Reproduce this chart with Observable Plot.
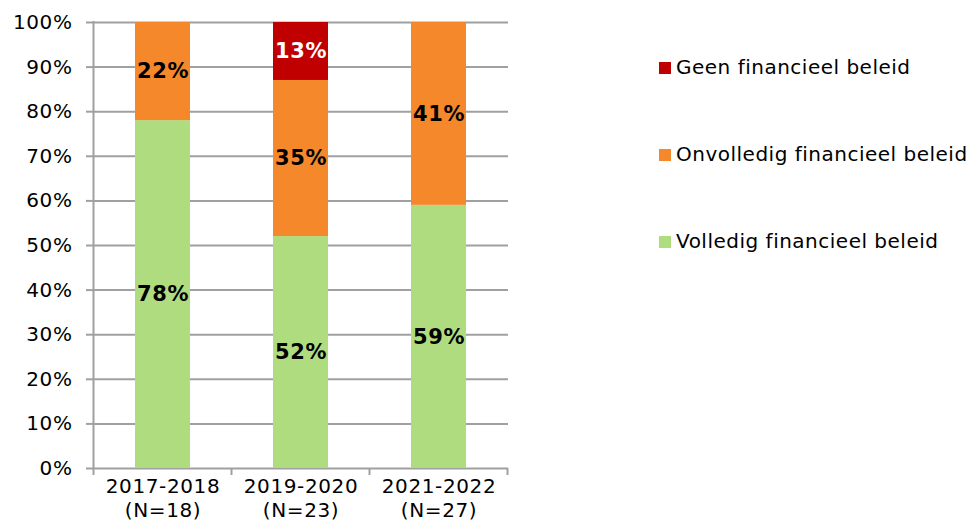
<!DOCTYPE html>
<html><head><meta charset="utf-8">
<script src="https://cdn.jsdelivr.net/npm/d3@7"></script>
<script src="https://cdn.jsdelivr.net/npm/@observablehq/plot@0.6"></script>
<style>
html,body{margin:0;padding:0;background:#fff;}
#wrap{position:relative;width:970px;height:528px;font-family:"DejaVu Sans",Verdana,sans-serif;}
#legend{position:absolute;left:659px;top:0;}
.item{position:absolute;left:0;white-space:nowrap;font-size:20px;letter-spacing:0.5px;line-height:24px;color:#000;}
.sw{display:inline-block;width:12px;height:12px;margin-right:5px;vertical-align:0px;}
svg text{letter-spacing:0.6px;}
svg text.bold{letter-spacing:1.5px;}
</style></head><body><div id="wrap"><div id="legend"></div></div>
<script>
const periods = ["2017-2018", "2019-2020", "2021-2022"];
const counts = [18, 23, 27];
const series = ["Volledig financieel beleid", "Onvolledig financieel beleid", "Geen financieel beleid"];
const colors = ["#b0dc80", "#f5882a", "#c00000"];
const labelColors = ["#000", "#000", "#fff"];
const volledig = [78, 52, 59];
const onvolledig = [22, 35, 41];
const geen = [0, 13, 0];
const yTicks = [0, 10, 20, 30, 40, 50, 60, 70, 80, 90, 100];

const values = [volledig, onvolledig, geen];
const rows = [];
periods.forEach((p, i) => {
  series.forEach((s, j) => {
    rows.push({period: p, series: s, value: values[j][i] / 100, pct: values[j][i], labelColor: labelColors[j]});
  });
});
const nonzero = rows.filter(d => d.value > 0);

function frameTicks(index, scales, vals, dims) {
  const x = scales.x, y = scales.y;
  const bw = x.bandwidth();
  const step = x.step ? x.step() : bw / 0.4;
  const y0 = y(0), yTop = y(1);
  const g = d3.create("svg:g").attr("stroke", "#a0a0a0").attr("stroke-width", 2);
  const bounds = periods.map(p => x(p) + bw / 2 - step / 2);
  bounds.push(x(periods[periods.length - 1]) + bw / 2 + step / 2);
  g.append("line").attr("x1", bounds[0]).attr("x2", bounds[0]).attr("y1", yTop - 1).attr("y2", y0 + 1);
  bounds.forEach(b => g.append("line").attr("x1", b).attr("x2", b).attr("y1", y0).attr("y2", y0 + 7));
  return g.node();
}

const chart = Plot.plot({
  width: 970, height: 528,
  marginLeft: 93, marginRight: 462, marginTop: 22, marginBottom: 60,
  style: {fontFamily: "'DejaVu Sans', Verdana, sans-serif", fontSize: "20px", color: "#000", background: "#fff", overflow: "visible"},
  x: {domain: periods, paddingInner: 0.6, paddingOuter: 0.3},
  y: {domain: [0, 1]},
  color: {domain: series, range: colors},
  marks: [
    Plot.ruleY(yTicks, {y: d => d / 100, stroke: "#a0a0a0", strokeWidth: 2, strokeOpacity: 1}),
    Plot.barY(nonzero, Plot.stackY({x: "period", y: "value", fill: "series", order: series})),
    Plot.text(nonzero, Plot.stackY({x: "period", y: "value", z: "series", order: series, text: d => d.pct + "%", fill: "labelColor", fontWeight: "bold", fontSize: 21, className: "bold"})),
    frameTicks,
    Plot.axisY({ticks: yTicks.map(d => d / 100), tickFormat: d => Math.round(d * 100) + "%", tickSize: 7, tickPadding: 14, stroke: "#a0a0a0", strokeWidth: 2, strokeOpacity: 1, fontSize: 20, label: null}),
    Plot.axisX({tickSize: 0, tickPadding: 7, tickFormat: d => d + "\n(N=" + counts[periods.indexOf(d)] + ")", lineHeight: 1.22, fontSize: 20, label: null})
  ]
});
document.getElementById("wrap").prepend(chart);

const legend = document.getElementById("legend");
const legendOrder = [2, 1, 0];
const legendY = [67, 154, 241];
legendOrder.forEach((j, k) => {
  const div = document.createElement("div");
  div.className = "item";
  div.style.top = (legendY[k] - 12) + "px";
  const sw = document.createElement("span");
  sw.className = "sw";
  sw.style.background = colors[j];
  div.appendChild(sw);
  div.appendChild(document.createTextNode(series[j]));
  legend.appendChild(div);
});
</script></body></html>
